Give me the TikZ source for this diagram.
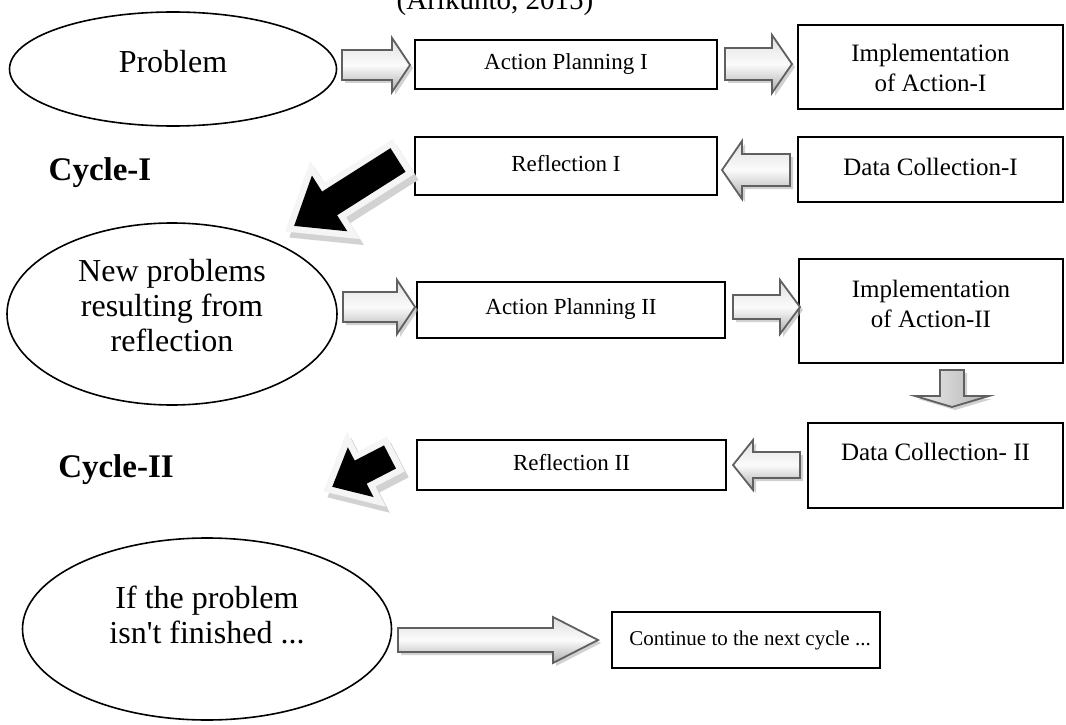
\documentclass[tikz,border=0pt]{standalone}
\usepackage{fontspec}
\setmainfont{Liberation Serif}[Ligatures=TeXOff]
\usetikzlibrary{shapes.geometric,shadows}

\tikzset{
  box/.style={draw, line width=1.6pt, rectangle, inner sep=0pt},
  oval/.style={draw, line width=1.6pt, ellipse, inner sep=0pt},
  bigtxt/.style={font=\fontsize{32}{35}\selectfont, align=center},
  midtxt/.style={font=\fontsize{25}{30}\selectfont, align=center},
  smalltxt/.style={font=\fontsize{23}{27}\selectfont, align=center},
  cyctxt/.style={font=\fontsize{33}{36}\selectfont\bfseries},
  garrow/.style={draw=gray!75!black, line width=1.8pt, line join=miter,
    top color=gray!25, bottom color=gray!65, middle color=gray!3,
    drop shadow={shadow xshift=3pt, shadow yshift=-3pt, fill=gray!60, opacity=0.6}},
  garrowv/.style={draw=gray!75!black, line width=1.8pt, line join=miter,
    left color=gray!15, right color=gray!60,
    drop shadow={shadow xshift=3pt, shadow yshift=-3pt, fill=gray!60, opacity=0.6}},
  karrowshadow/.style={fill=gray!35, draw=gray!35, line width=13pt, line join=miter},
  karrowrim/.style={fill=gray!8, draw=gray!8, line width=13pt, line join=miter},
  karrowbody/.style={fill=black},
}

% horizontal block arrow: tail x, tip x, centre y, shaft half, head half, head length (negative for left)
\newcommand\blockR[6]{%
  \path[garrow] (#1,{#3-#4}) -- ({#2-#6},{#3-#4}) -- ({#2-#6},{#3-#5}) -- (#2,#3)
    -- ({#2-#6},{#3+#5}) -- ({#2-#6},{#3+#4}) -- (#1,{#3+#4}) -- cycle;}
% vertical block arrow: centre x, tail y, tip y, shaft half, head half, head length
\newcommand\blockD[6]{%
  \path[garrowv] ({#1-#4},#2) -- ({#1+#4},#2) -- ({#1+#4},{#3-#6}) -- ({#1+#5},{#3-#6})
    -- (#1,#3) -- ({#1-#5},{#3-#6}) -- ({#1-#4},{#3-#6}) -- cycle;}
% local arrow path: length, shaft half, head half, head length
\newcommand\kpath[4]{(0,{-#2}) -- ({#1-#4},{-#2}) -- ({#1-#4},{-#3}) -- (#1,0)
    -- ({#1-#4},#3) -- ({#1-#4},#2) -- (0,#2) -- cycle}
% black arrow: tail x, tail y, angle, length, shaft half, head half, head length
\newcommand\blackArrow[7]{%
  \begin{scope}[shift={({#1+4},{#2+6})}, rotate=#3]
    \path[karrowshadow] \kpath{#4}{#5}{#6}{#7};
  \end{scope}
  \begin{scope}[shift={(#1,#2)}, rotate=#3]
    \path[karrowrim] \kpath{#4}{#5}{#6}{#7};
    \path[karrowbody] \kpath{#4}{#5}{#6}{#7};
  \end{scope}}

\begin{document}
\begin{tikzpicture}[x=1pt, y=-1pt]
\useasboundingbox (0,0) rectangle (1066,725);

% title (cut at the top)
\node[anchor=base, font=\fontsize{29}{30}\selectfont, inner sep=0pt] (title) at (495,10) {(Arikunto, 2015)};

% ellipses
\node[oval, minimum width=327pt, minimum height=114pt] (prob) at (173,69) {};
\node[bigtxt] (probt) at (173,62) {Problem};
\node[oval, minimum width=330pt, minimum height=182pt] (newp) at (172,314) {};
\node[bigtxt] (newpt) at (172,306) {New problems\\resulting from\\reflection};
\node[oval, minimum width=369pt, minimum height=182pt] (ifp) at (207,629) {};
\node[bigtxt] (ifpt) at (207,615) {If the problem\\isn't finished ...};

% boxes row 1
\node[box, minimum width=302pt, minimum height=49pt] (ap1) at (566,64.5) {};
\node[smalltxt] at (ap1.center) {Action Planning I};
\node[box, minimum width=265pt, minimum height=84pt] (im1) at (930.5,67) {};
\node[midtxt] at (930.5,68) {Implementation\\of Action-I};
\node[box, minimum width=302pt, minimum height=58pt] (rf1) at (566,166) {};
\node[smalltxt] at (566,164) {Reflection I};
\node[box, minimum width=265pt, minimum height=65pt] (dc1) at (930.5,169.5) {};
\node[midtxt] at (930.5,167) {Data Collection-I};

% boxes row 2
\node[box, minimum width=308pt, minimum height=56pt] (ap2) at (571,310) {};
\node[smalltxt] at (571,309) {Action Planning II};
\node[box, minimum width=264pt, minimum height=104pt] (im2) at (931,311) {};
\node[midtxt] at (931,304) {Implementation\\of Action-II};
\node[box, minimum width=255pt, minimum height=85pt] (dc2) at (935.5,465.5) {};
\node[midtxt] at (935.5,452) {Data Collection- II};
\node[box, minimum width=309pt, minimum height=50pt] (rf2) at (571.5,465) {};
\node[smalltxt] at (571.5,463) {Reflection II};

% continue box
\node[box, minimum width=268pt, minimum height=56pt] (cont) at (746,640) {};
\node[font=\fontsize{21}{25}\selectfont] at (750,640) {Continue to the next cycle ...};

% cycle labels
\node[cyctxt] (c1) at (100,173) {Cycle-I};
\node[cyctxt] (c2) at (116,470) {Cycle-II};

% grey block arrows
\blockR{342}{410}{65}{15}{27}{18}
\blockR{725}{792}{64}{16}{29}{20}
\blockR{790}{722}{170}{16}{29}{-20}
\blockR{343}{415}{307}{15}{27}{18}
\blockR{733}{800}{307}{12}{27}{20}
\blockD{952}{370}{407}{12}{37}{11}
\blockR{800}{733}{465}{13}{25}{-20}
\blockR{398}{598}{640}{12}{23}{45}

% black arrows
\blackArrow{398}{160}{212.4}{123}{14}{33}{42}
\blackArrow{390}{457}{207.3}{65}{13}{28}{32}
\end{tikzpicture}
\end{document}
